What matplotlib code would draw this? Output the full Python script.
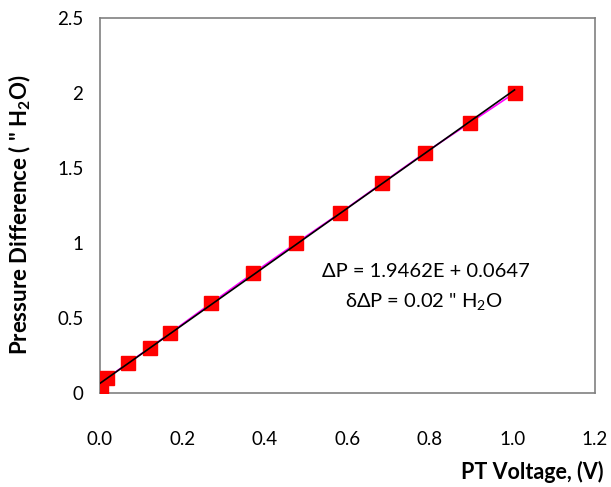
import matplotlib
matplotlib.use("Agg")
import numpy as np
from matplotlib import pyplot as plt

plt.rcParams['font.family'] = ['Lato', 'DejaVu Sans']
plt.rcParams['mathtext.fontset'] = 'custom'
plt.rcParams['mathtext.rm'] = 'Lato'
plt.rcParams['mathtext.bf'] = 'Lato:bold'

# PT voltage (V) and pressure difference (" H2O)
voltage = [0.002, 0.017, 0.068, 0.120, 0.170, 0.270, 0.372, 0.476, 0.582, 0.684, 0.787, 0.896, 1.005]
pressure = [0.02, 0.10, 0.20, 0.30, 0.40, 0.60, 0.80, 1.00, 1.20, 1.40, 1.60, 1.80, 2.00]

slope = 1.9462
intercept = 0.0647

fig = plt.figure(figsize=(6.11, 4.87), dpi=100)
ax = fig.add_axes([0.1637, 0.193, 0.81, 0.77])

ax.plot(voltage, pressure, color='#ff00ff', lw=1.2, zorder=2)
ax.plot(voltage, pressure, 's', color='#ff0000', ms=10, zorder=3)
xf = np.array([0.0, max(voltage)])
ax.plot(xf, slope * xf + intercept, color='black', lw=1.2, zorder=4)

ax.set_xlim(0, 1.2)
ax.set_ylim(0, 2.5)
ax.set_xticks(np.arange(0, 1.21, 0.2))
ax.set_xticklabels(['0.0', '0.2', '0.4', '0.6', '0.8', '1.0', '1.2'])
ax.set_yticks([0, 0.5, 1, 1.5, 2, 2.5])
ax.set_yticklabels(['0', '0.5', '1', '1.5', '2', '2.5'])
ax.tick_params(axis='both', length=0, labelsize=13.5)
ax.tick_params(axis='x', pad=27)
ax.tick_params(axis='y', pad=12)
for s in ax.spines.values():
    s.set_color('#808080')
    s.set_linewidth(1.2)

ax.text(0.79, 0.807, 'ΔP = 1.9462E + 0.0647', fontsize=14.5, ha='center', va='center')
ax.text(0.785, 0.607, 'δΔP = 0.02 " H$_2$O', fontsize=14.5, ha='center', va='center')

fig.text(0.987, 0.031, 'PT Voltage, (V)', fontsize=15.5, fontweight='bold', ha='right', va='center')
fig.text(0.033, 0.56, 'Pressure Difference ( " H$_\\mathbf{2}$O)', fontsize=16, fontweight='bold',
         rotation=90, ha='center', va='center')

fig.savefig('out.png', dpi=100)
